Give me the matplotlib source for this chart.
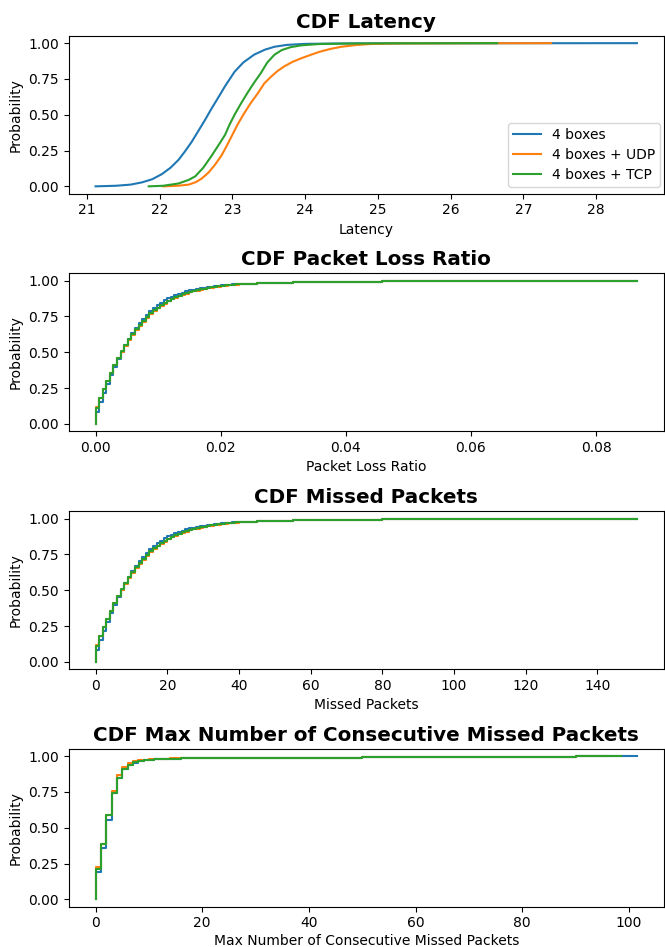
import matplotlib
matplotlib.use("Agg")
import matplotlib.pyplot as plt

# ---------------- DATA ----------------
series_labels = ["4 boxes", "4 boxes + UDP", "4 boxes + TCP"]
colors = ["#1f77b4", "#ff7f0e", "#2ca02c"]

# CDF Latency (x = latency, y = cumulative probability)
lat_x_4b = [21.12, 21.4, 21.6, 21.76, 21.9, 22.03, 22.15, 22.26, 22.35, 22.44, 22.53,
            22.62, 22.71, 22.80, 22.90, 23.03, 23.15, 23.30, 23.45, 23.58, 23.75, 24.0,
            24.5, 25.5, 28.56]
lat_y_4b = [0.0, 0.004, 0.012, 0.028, 0.05, 0.085, 0.13, 0.185, 0.245, 0.31, 0.385,
            0.46, 0.54, 0.615, 0.70, 0.80, 0.865, 0.92, 0.955, 0.975, 0.988, 0.995,
            0.998, 0.999, 1.0]

lat_x_udp = [22.05, 22.25, 22.4, 22.5, 22.58, 22.67, 22.76, 22.85, 22.92, 22.99, 23.07,
             23.15, 23.25, 23.35, 23.44, 23.53, 23.62, 23.72, 23.83, 23.95, 24.07, 24.2,
             24.35, 24.5, 24.7, 24.9, 25.3, 26.0, 27.38]
lat_y_udp = [0.0, 0.004, 0.012, 0.03, 0.055, 0.095, 0.15, 0.215, 0.28, 0.35, 0.43,
             0.50, 0.58, 0.65, 0.72, 0.765, 0.805, 0.84, 0.87, 0.895, 0.917, 0.94,
             0.96, 0.975, 0.987, 0.994, 0.998, 0.999, 1.0]

lat_x_tcp = [21.85, 22.05, 22.26, 22.4, 22.49, 22.60, 22.71, 22.80, 22.90, 22.96, 23.03,
             23.12, 23.21, 23.30, 23.39, 23.48, 23.58, 23.68, 23.80, 23.95, 24.2, 24.6,
             25.2, 26.64]
lat_y_tcp = [0.0, 0.004, 0.02, 0.045, 0.07, 0.13, 0.21, 0.28, 0.36, 0.43, 0.50,
             0.58, 0.655, 0.725, 0.79, 0.865, 0.92, 0.952, 0.972, 0.985, 0.994, 0.997,
             0.999, 1.0]

# CDF Missed Packets (common x grid of missed packet counts)
missed_x = list(range(0, 41)) + [45, 50, 55, 60, 70, 80, 90, 100, 120, 140, 151]

# CDF Packet Loss Ratio (same samples, expressed as ratio of lost packets)
loss_ratio_x = [0.0, 0.000573, 0.001146, 0.001719, 0.002292, 0.002865, 0.003438, 0.004011,
                0.004585, 0.005158, 0.005731, 0.006304, 0.006877, 0.007450, 0.008023,
                0.008596, 0.009169, 0.009742, 0.010315, 0.010888, 0.011461, 0.012034,
                0.012607, 0.013181, 0.013754, 0.014327, 0.014900, 0.015473, 0.016046,
                0.016619, 0.017192, 0.017765, 0.018338, 0.018911, 0.019484, 0.020057,
                0.020630, 0.021203, 0.021777, 0.022350, 0.022923,
                0.025788, 0.028653, 0.031519, 0.034384, 0.040115, 0.045845, 0.051576,
                0.057307, 0.068768, 0.080229, 0.086533]

missed_cdf_4b = [0.086, 0.150, 0.215, 0.278, 0.338, 0.395, 0.450, 0.500, 0.548, 0.592,
                 0.632, 0.669, 0.703, 0.734, 0.762, 0.787, 0.809, 0.829, 0.847, 0.862,
                 0.876, 0.888, 0.899, 0.909, 0.917, 0.925, 0.932, 0.938, 0.943, 0.948,
                 0.952, 0.956, 0.959, 0.962, 0.965, 0.968, 0.970, 0.972, 0.974, 0.976,
                 0.978, 0.983, 0.987, 0.989, 0.991, 0.994, 0.996, 0.997, 0.998, 0.999,
                 0.9995, 1.0]
missed_cdf_udp = [0.120, 0.183, 0.244, 0.301, 0.357, 0.410, 0.459, 0.504, 0.546, 0.585,
                  0.621, 0.654, 0.685, 0.714, 0.740, 0.764, 0.786, 0.806, 0.824, 0.840,
                  0.855, 0.869, 0.881, 0.892, 0.902, 0.910, 0.918, 0.925, 0.931, 0.937,
                  0.942, 0.947, 0.951, 0.955, 0.959, 0.962, 0.965, 0.968, 0.970, 0.972,
                  0.974, 0.981, 0.985, 0.988, 0.990, 0.994, 0.996, 0.997, 0.998, 0.999,
                  0.9995, 1.0]
missed_cdf_tcp = [0.114, 0.178, 0.240, 0.298, 0.355, 0.410, 0.460, 0.506, 0.550, 0.590,
                  0.627, 0.661, 0.692, 0.721, 0.747, 0.771, 0.793, 0.812, 0.830, 0.846,
                  0.860, 0.873, 0.885, 0.895, 0.905, 0.913, 0.921, 0.928, 0.934, 0.940,
                  0.945, 0.950, 0.954, 0.958, 0.961, 0.964, 0.967, 0.970, 0.972, 0.974,
                  0.976, 0.982, 0.986, 0.989, 0.991, 0.994, 0.996, 0.997, 0.998, 0.999,
                  0.9995, 1.0]

# CDF Max Number of Consecutive Missed Packets
consec_x_4b = [0, 1, 2, 3, 4, 5, 6, 7, 8, 9, 10, 11, 12, 14, 16, 20, 25, 30, 35, 40, 50,
               60, 70, 80, 90, 98, 101.5]
consec_y_4b = [0.19, 0.36, 0.556, 0.746, 0.847, 0.91, 0.94, 0.955, 0.965, 0.970, 0.974,
               0.977, 0.979, 0.982, 0.984, 0.986, 0.987, 0.988, 0.989, 0.990, 0.992,
               0.993, 0.995, 0.996, 0.998, 0.9995, 1.0]
consec_x_udp = [0, 1, 2, 3, 4, 5, 6, 7, 8, 9, 10, 11, 12, 14, 16, 20, 25, 30, 35, 40, 50,
                60, 70, 80, 90, 96]
consec_y_udp = [0.227, 0.388, 0.59, 0.76, 0.87, 0.925, 0.955, 0.965, 0.972, 0.976, 0.979,
                0.981, 0.982, 0.984, 0.985, 0.986, 0.987, 0.988, 0.989, 0.990, 0.992,
                0.993, 0.995, 0.996, 0.998, 0.9995]
consec_x_tcp = [0, 1, 2, 3, 4, 5, 6, 7, 8, 9, 10, 11, 12, 14, 16, 20, 25, 30, 35, 40, 50,
                60, 70, 80, 90, 98.5]
consec_y_tcp = [0.215, 0.385, 0.59, 0.746, 0.847, 0.91, 0.94, 0.957, 0.966, 0.971, 0.975,
                0.978, 0.980, 0.982, 0.984, 0.986, 0.987, 0.988, 0.989, 0.990, 0.992,
                0.993, 0.995, 0.996, 0.998, 0.9995]

# ---------------- PLOT ----------------
W, H = 665, 947
fig = plt.figure(figsize=(W / 100, H / 100), dpi=100)

left_px, right_px = 68.5, 664
tops = [36, 273.5, 511.5, 749]
height_px = 157.5
TITLE_SIZE = 14.3


def make_ax(top):
    return fig.add_axes([left_px / W, 1 - (top + height_px) / H,
                         (right_px - left_px) / W, height_px / H])


ax1, ax2, ax3, ax4 = [make_ax(t) for t in tops]


def step_data(xs, ys):
    # prepend starting point at probability 0 to draw the initial vertical rise
    return [xs[0]] + list(xs), [0.0] + list(ys)


# Latency
for xs, ys, c, lab in zip([lat_x_4b, lat_x_udp, lat_x_tcp],
                          [lat_y_4b, lat_y_udp, lat_y_tcp], colors, series_labels):
    ax1.plot(xs, ys, color=c, label=lab, lw=1.5)
ax1.set_title("CDF Latency", fontsize=TITLE_SIZE, fontweight="bold")
ax1.set_xlabel("Latency")
ax1.set_ylabel("Probability")
ax1.legend(loc="lower right", bbox_to_anchor=(0.9935, 0.043), borderaxespad=0,
           labelspacing=0.42, borderpad=0.35)

# Packet loss ratio
for ys, c, lab in zip([missed_cdf_4b, missed_cdf_udp, missed_cdf_tcp], colors, series_labels):
    sx, sy = step_data(loss_ratio_x, ys)
    ax2.plot(sx, sy, color=c, label=lab, lw=1.5, drawstyle="steps-post")
ax2.set_title("CDF Packet Loss Ratio", fontsize=TITLE_SIZE, fontweight="bold")
ax2.set_xlabel("Packet Loss Ratio")
ax2.set_ylabel("Probability")

# Missed packets
for ys, c, lab in zip([missed_cdf_4b, missed_cdf_udp, missed_cdf_tcp], colors, series_labels):
    sx, sy = step_data(missed_x, ys)
    ax3.plot(sx, sy, color=c, label=lab, lw=1.5, drawstyle="steps-post")
ax3.set_title("CDF Missed Packets", fontsize=TITLE_SIZE, fontweight="bold")
ax3.set_xlabel("Missed Packets")
ax3.set_ylabel("Probability")

# Max consecutive missed packets
for xs, ys, c, lab in zip([consec_x_4b, consec_x_udp, consec_x_tcp],
                          [consec_y_4b, consec_y_udp, consec_y_tcp], colors, series_labels):
    sx, sy = step_data(xs, ys)
    ax4.plot(sx, sy, color=c, label=lab, lw=1.5, drawstyle="steps-post")
ax4.set_title("CDF Max Number of Consecutive Missed Packets", fontsize=TITLE_SIZE,
              fontweight="bold")
ax4.set_xlabel("Max Number of Consecutive Missed Packets", labelpad=2.5)
ax4.set_ylabel("Probability")

for ax in (ax1, ax2, ax3, ax4):
    ax.set_yticks([0.0, 0.25, 0.5, 0.75, 1.0])

fig.savefig("out.png", dpi=100)
